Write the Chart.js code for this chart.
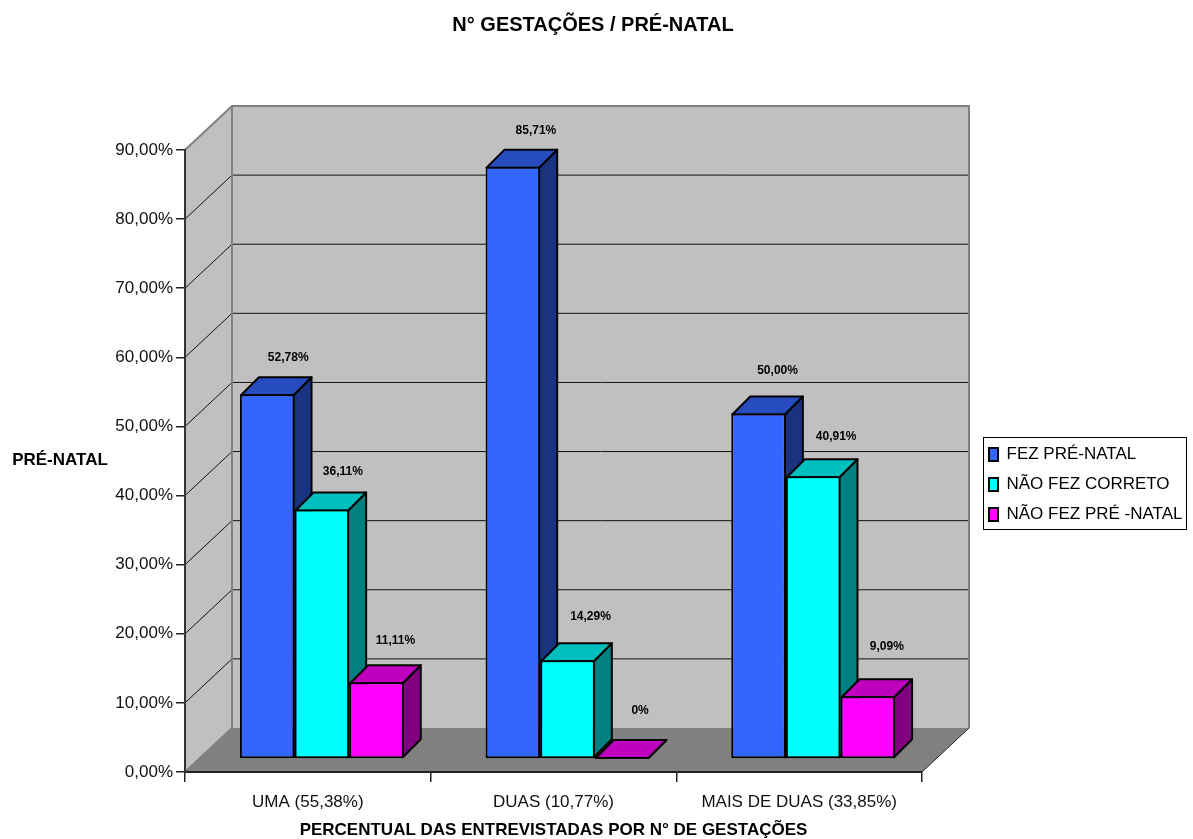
<!DOCTYPE html>
<html lang="en">
<head>
    <meta charset="UTF-8">
    <title>N° Gestações / Pré-natal</title>
    <script src="https://cdn.jsdelivr.net/npm/chart.js"></script>
    <style>
        body { margin: 0; background: #fff; }
        canvas { display: block; }
    </style>
</head>
<body>
    <canvas id="chart" width="1193" height="839"></canvas>

    <script>
        const categories = ['UMA (55,38%)', 'DUAS (10,77%)', 'MAIS DE DUAS (33,85%)'];
        const fezPreNatal = [52.78, 85.71, 50.00];
        const naoFezCorreto = [36.11, 14.29, 40.91];
        const naoFezPreNatal = [11.11, 0, 9.09];

        const seriesNames = ['FEZ PRÉ-NATAL', 'NÃO FEZ CORRETO', 'NÃO FEZ PRÉ -NATAL'];
        const frontColors = ['#3366FF', '#00FFFF', '#FF00FF'];
        const sideColors = ['#1A3380', '#008080', '#800080'];
        const topColors = ['#264CBF', '#00BFBF', '#BF00BF'];

        // how far each value label sits from its bar (pixels, read per series and category)
        const labelShift = [[21, 23, 19], [21, 23, 23], [19, 18, 19]];
        const labelLift = [[37, 36, 43], [38, 44, 40], [42, 48, 49]];

        const fontName = '"Liberation Sans", Arial, sans-serif';
        const wall = { dx: 47, dy: -44 };   // depth of the back wall
        const barOffset = { dx: 14, dy: -13 };  // bars stand a bit behind the front edge
        const barDepth = 18;
        const legendFrame = { left: 983, top: 437, right: 1186, bottom: 529 };

        function percentLabel(v) {
            return v === 0 ? '0%' : v.toFixed(2).replace('.', ',') + '%';
        }

        function poly(ctx, pts, fill, stroke, width) {
            ctx.beginPath();
            pts.forEach((p, i) => i ? ctx.lineTo(p[0], p[1]) : ctx.moveTo(p[0], p[1]));
            ctx.closePath();
            ctx.fillStyle = fill;
            ctx.fill();
            if (stroke) {
                ctx.strokeStyle = stroke;
                ctx.lineWidth = width;
                ctx.stroke();
            }
        }

        const chart3d = {
            id: 'chart3d',
            afterLayout(chart) {
                // put legend and title where the reference has them
                // (bottom is left loose, otherwise the legend wraps into a second column)
                const lg = chart.legend;
                lg.left = legendFrame.left - 7;
                lg.right = legendFrame.right;
                lg.top = legendFrame.top - 4;
                lg.bottom = legendFrame.bottom + 40;
                chart.titleBlock.left = 0;
                chart.titleBlock.right = 1186;
            },
            beforeDraw(chart) {
                const { ctx, chartArea: a, scales: { y } } = chart;
                const { dx, dy } = wall;
                ctx.save();
                // left wall, back wall, floor
                poly(ctx, [[a.left, a.top], [a.left + dx, a.top + dy], [a.left + dx, a.bottom + dy], [a.left, a.bottom]], '#C0C0C0');
                poly(ctx, [[a.left + dx, a.top + dy], [a.right + dx, a.top + dy], [a.right + dx, a.bottom + dy], [a.left + dx, a.bottom + dy]], '#C0C0C0');
                poly(ctx, [[a.left, a.bottom], [a.left + dx, a.bottom + dy], [a.right + dx, a.bottom + dy], [a.right, a.bottom]], '#808080');

                y.ticks.forEach(t => {
                    if (t.value === 0 || t.value === y.max) return;
                    const py = y.getPixelForValue(t.value);
                    ctx.strokeStyle = '#111';
                    ctx.lineWidth = 1;
                    ctx.beginPath();
                    ctx.moveTo(a.left, py);
                    ctx.lineTo(a.left + dx, py + dy);
                    ctx.lineTo(a.right + dx, py + dy);
                    ctx.stroke();
                });

                // wall outlines
                ctx.strokeStyle = '#808080';
                ctx.lineWidth = 2;
                ctx.beginPath();
                ctx.moveTo(a.left, a.top);
                ctx.lineTo(a.left + dx, a.top + dy);
                ctx.lineTo(a.right + dx, a.top + dy);
                ctx.lineTo(a.right + dx, a.bottom + dy);
                ctx.moveTo(a.left + dx, a.top + dy);
                ctx.lineTo(a.left + dx, a.bottom + dy);
                ctx.lineTo(a.left, a.bottom);
                ctx.stroke();
                ctx.strokeStyle = '#222';
                ctx.lineWidth = 1;
                ctx.beginPath();
                ctx.moveTo(a.right, a.bottom);
                ctx.lineTo(a.right + dx, a.bottom + dy);
                ctx.stroke();

                // legend frame
                const f = legendFrame;
                ctx.strokeStyle = '#000';
                ctx.lineWidth = 1;
                ctx.strokeRect(f.left + 0.5, f.top + 0.5, f.right - f.left, f.bottom - f.top);

                // axis title that stays horizontal
                ctx.fillStyle = '#000';
                ctx.font = 'bold 17px ' + fontName;
                ctx.textAlign = 'center';
                ctx.textBaseline = 'middle';
                ctx.fillText('PRÉ-NATAL', 60, 460);
                ctx.restore();
            },
            // Chart.js paints the last dataset first; here the left bar has to go first
            // so the next one covers its side, so the datasets are painted from this hook
            beforeDatasetsDraw(chart) {
                const { ctx } = chart;
                chart.getSortedVisibleDatasetMetas().forEach(meta => {
                    const i = meta.index;
                    ctx.save();
                    ctx.translate(barOffset.dx, barOffset.dy);
                    ctx.lineJoin = 'round';
                    meta.data.forEach(el => {
                        // the bar border is drawn inside the bar, stay on its centre line
                        const l = el.x - el.width / 2 + 1, r = el.x + el.width / 2 - 1;
                        const b = el.base - 1, t = Math.min(el.y + 1, b), d = barDepth;
                        poly(ctx, [[r, t], [r + d, t - d], [r + d, b - d], [r, b]], sideColors[i], '#000', 2);
                        poly(ctx, [[l, t], [l + d, t - d], [r + d, t - d], [r, t]], topColors[i], '#000', 2);
                    });
                    meta.controller.draw();
                    ctx.restore();
                });

                ctx.save();
                ctx.fillStyle = '#000';
                ctx.font = 'bold 12px ' + fontName;
                ctx.textAlign = 'center';
                ctx.textBaseline = 'middle';
                chart.data.datasets.forEach((ds, i) => {
                    chart.getDatasetMeta(i).data.forEach((el, j) => {
                        ctx.fillText(percentLabel(ds.data[j]),
                            el.x + barOffset.dx + labelShift[i][j],
                            el.y + barOffset.dy - labelLift[i][j]);
                    });
                });
                ctx.restore();
                return false;
            }
        };

        const seriesValues = [fezPreNatal, naoFezCorreto, naoFezPreNatal];

        new Chart(document.getElementById('chart'), {
            type: 'bar',
            data: {
                labels: categories,
                datasets: seriesValues.map((values, i) => ({
                    label: seriesNames[i],
                    data: values,
                    backgroundColor: frontColors[i],
                    borderColor: '#000',
                    borderWidth: 2,
                    borderSkipped: false,
                    barPercentage: 1,
                    categoryPercentage: 0.667
                }))
            },
            options: {
                responsive: false,
                animation: false,
                layout: { padding: { right: 271 } },
                plugins: {
                    tooltip: { enabled: false },
                    title: {
                        display: true,
                        text: 'N° GESTAÇÕES / PRÉ-NATAL',
                        color: '#000',
                        font: { family: fontName, size: 20, weight: 'bold' },
                        padding: { top: 13, bottom: 113 }
                    },
                    legend: {
                        position: 'chartArea',
                        align: 'start',
                        labels: {
                            color: '#000',
                            font: { family: fontName, size: 17 },
                            boxWidth: 9,
                            boxHeight: 13,
                            padding: 13
                        }
                    }
                },
                scales: {
                    x: {
                        afterFit(scale) { scale.height = 67; },
                        grid: { drawOnChartArea: false, color: '#222', lineWidth: 1.5, tickLength: 10 },
                        border: { color: '#222', width: 2 },
                        ticks: { color: '#111', font: { family: fontName, size: 17 }, padding: 10, maxRotation: 0 },
                        title: {
                            display: true,
                            text: 'PERCENTUAL DAS ENTREVISTADAS POR N° DE GESTAÇÕES',
                            color: '#000',
                            font: { family: fontName, size: 17, weight: 'bold' },
                            padding: { top: 0, bottom: -2 }
                        }
                    },
                    y: {
                        min: 0,
                        max: 90,
                        afterFit(scale) { scale.width = 185; },
                        grid: { drawOnChartArea: false, color: '#222', lineWidth: 1.5, tickLength: 9 },
                        border: { color: '#333', width: 2 },
                        ticks: {
                            stepSize: 10,
                            color: '#111',
                            font: { family: fontName, size: 17 },
                            padding: 3,
                            callback: v => v.toFixed(2).replace('.', ',') + '%'
                        }
                    }
                }
            },
            plugins: [chart3d]
        });
    </script>
</body>
</html>
